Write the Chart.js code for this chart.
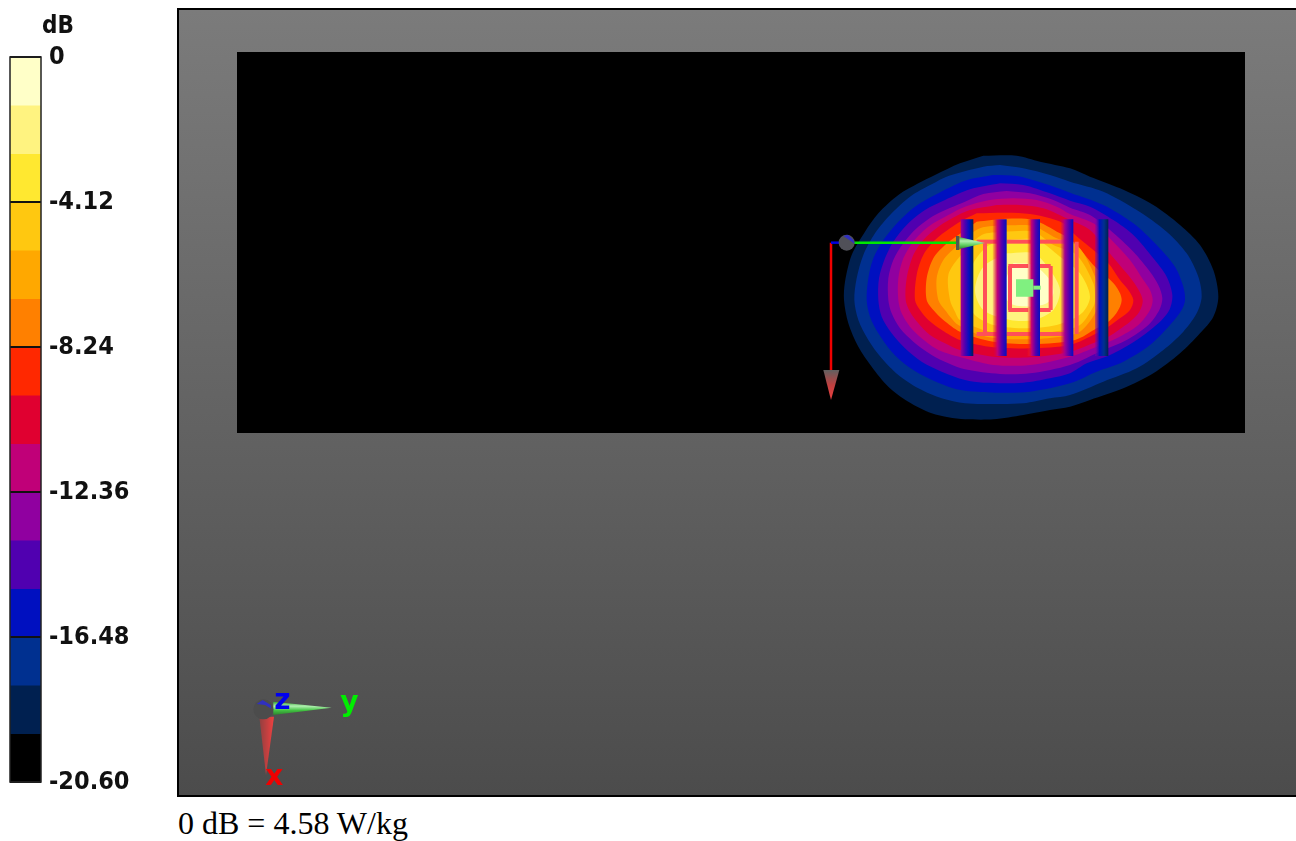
<!DOCTYPE html>
<html>
<head>
<meta charset="utf-8">
<title>SAR scan</title>
<script src="https://cdn.jsdelivr.net/npm/chart.js@4/dist/chart.umd.min.js"></script>
<style>
html, body { margin: 0; padding: 0; background: #fff; width: 1296px; height: 841px; overflow: hidden; }
#barCanvas { position: absolute; left: 0; top: 0; }
#frame { position: absolute; left: 177px; top: 8px; width: 1117px; height: 785px; border: 2px solid #000; border-right: 0;
    background: linear-gradient(#7b7b7b, #4c4c4c); }
#frame canvas { display: block; }
#unit { position: absolute; left: 42px; top: 11px; font: bold 24px "DejaVu Sans Condensed", "DejaVu Sans", sans-serif; color: #111; }
#note { position: absolute; left: 178px; top: 805px; font: 32px "Liberation Serif", serif; color: #000; white-space: nowrap; }
</style>
</head>
<body>
<canvas id="barCanvas" width="170" height="810"></canvas>
<div id="unit">dB</div>
<div id="frame"><canvas id="scanCanvas" width="1119" height="785"></canvas></div>
<div id="note">0 dB = 4.58 W/kg</div>
<script>
// Farbskala
const bandColors = ['#ffffc8', '#fff380', '#ffe830', '#ffc810', '#ffa800', '#ff8000', '#ff2800', '#e00030',
    '#c00078', '#9000a0', '#5000b0', '#0010c0', '#003090', '#002050', '#000000'];
const bandEdges = [0, -1.37, -2.75, -4.12, -5.49, -6.87, -8.24, -9.61, -10.99, -12.36, -13.73, -15.11, -16.48, -17.85, -19.23, -20.6];
const tickValues = [0, -4.12, -8.24, -12.36, -16.48, -20.6];

// Messbereich
const scanArea = [[-1749, -264], [1275, -264], [1275, 879], [-1749, 879], [-1749, -264]];

// Konturen von aussen nach innen (je eine zu bandColors[13] ... bandColors[0])
const contourA = [[490,47],[590,47],[660,65],[750,85],[810,110],[900,145],[1000,195],[1080,255],[1140,315],[1180,390],[1195,470],[1180,530],[1140,580],[1080,640],[1000,700],[910,745],[810,780],[750,800],[690,810],[610,825],[520,838],[435,838],[385,832],[335,820],[265,785],[205,740],[155,680],[115,620],[85,550],[72,480],[75,425],[95,345],[135,275],[175,220],[235,165],[295,130],[345,105],[420,70],[490,47]];
const contourB = [[540,75],[610,85],[690,105],[750,125],[850,155],[950,210],[1040,275],[1100,340],[1135,410],[1145,470],[1130,520],[1090,575],[1030,630],[950,685],[850,725],[750,765],[690,775],[610,790],[510,792],[435,790],[365,775],[295,745],[235,705],[185,655],[145,600],[115,540],[103,480],[110,415],[130,345],[165,280],[215,220],[270,170],[335,133],[385,108],[490,80],[540,75]];
const contourC = [[520,105],[590,108],[670,130],[750,158],[850,195],[940,250],[1010,315],[1065,380],[1090,440],[1095,480],[1085,510],[1050,555],[990,615],[910,665],[830,695],[750,730],[630,755],[540,758],[435,752],[385,740],[325,715],[265,680],[215,635],[175,580],[150,530],[140,480],[145,415],[160,355],[190,300],[235,245],[285,200],[345,165],[435,122],[520,105]];
const contourD = [[540,130],[610,135],[690,160],[750,182],[810,200],[880,240],[940,285],[1000,355],[1040,410],[1057,465],[1048,510],[1015,550],[950,600],[870,645],[800,670],[750,700],[690,715],[610,728],[490,728],[435,720],[365,695],[305,665],[255,625],[215,580],[185,530],[175,480],[177,415],[195,355],[220,305],[260,255],[315,210],[375,180],[450,148],[540,130]];
const contourE = [[560,153],[630,160],[700,180],[750,203],[810,225],[870,270],[940,335],[990,395],[1015,435],[1027,475],[1018,510],[985,555],[920,600],[850,630],[750,675],[630,700],[540,702],[435,688],[385,670],[335,645],[280,605],[240,565],[215,520],[205,480],[205,415],[220,360],[250,310],[290,265],[345,225],[435,185],[490,162],[560,153]];
const contourF = [[580,175],[650,180],[710,200],[750,222],[820,250],[865,290],[930,360],[970,420],[990,450],[998,480],[990,510],[955,555],[890,595],[830,620],[750,650],[630,675],[520,675],[435,655],[355,630],[305,595],[270,560],[245,520],[235,480],[235,415],[250,355],[280,305],[325,260],[385,225],[435,200],[510,180],[580,175]];
const contourG = [[530,195],[600,195],[670,205],[750,240],[810,270],[865,335],[920,400],[950,440],[968,480],[958,515],[930,545],[865,590],[830,605],[750,635],[630,652],[520,650],[420,630],[375,610],[330,585],[295,550],[270,515],[257,480],[260,415],[280,345],[310,300],[355,260],[415,225],[450,210],[530,195]];
const contourH = [[470,220],[560,218],[630,222],[690,235],[740,255],[760,280],[820,330],[865,370],[900,420],[925,450],[940,480],[930,510],[900,535],[865,560],[830,580],[750,615],[630,625],[520,622],[420,600],[365,570],[325,540],[300,510],[285,480],[290,405],[310,345],[345,300],[390,265],[420,245],[470,220]];
const contourI = [[470,245],[560,236],[640,240],[720,280],[760,305],[825,380],[865,415],[885,435],[900,460],[905,480],[900,500],[885,525],[865,545],[830,565],[765,600],[640,612],[520,605],[420,575],[370,540],[340,510],[320,480],[320,415],[340,355],[375,315],[415,285],[470,245]];
const contourJ = [[560,256],[640,258],[710,295],[775,320],[825,410],[835,470],[825,520],[780,575],[720,590],[620,598],[500,590],[415,555],[375,510],[355,480],[350,415],[370,360],[415,315],[480,265],[560,256]];
const contourK = [[550,275],[640,275],[700,315],[770,345],[820,430],[825,480],[820,500],[780,555],[720,572],[620,582],[510,575],[420,540],[405,515],[390,480],[385,405],[415,355],[485,285],[550,275]];
const contourL = [[550,300],[650,300],[720,350],[780,400],[810,470],[785,520],[720,552],[630,565],[520,555],[460,520],[440,450],[460,370],[500,320],[550,300]];
const contourM = [[560,340],[640,340],[690,390],[720,450],[700,510],[640,540],[570,540],[490,510],[465,450],[490,380],[560,340]];
const contourN = [[580,370],[640,375],[690,420],[700,460],[680,490],[630,500],[570,490],[550,440],[580,370]];
const contours = [contourA, contourB, contourC, contourD, contourE, contourF, contourG, contourH, contourI, contourJ, contourK, contourL, contourM, contourN];

// Antennenlinien (Strecken)
const traceLines = [
    [[470,305],[545,305]], [[560,305],[635,305]], [[660,305],[745,305]],
    [[470,582],[545,582]], [[560,582],[635,582]], [[660,582],[745,582]],
    [[495,305],[495,582]], [[770,305],[770,582]],
    [[565,378],[625,378]], [[660,378],[692,378]], [[570,378],[570,510]], [[692,378],[692,510]],
    [[565,510],[625,510]], [[660,510],[692,510]]
];

// Dunkle Streifen: linke Kante, rechte Kante, Farben von links nach rechts
const stripEdges = [[422, 460], [518, 560], [622, 660], [722, 760], [825, 865]];
const stripTop = 238;
const stripBottom = 648;
const stripColors = [
    ['#a00090', '#5000b0', '#0010c0', '#002050'],
    ['rgba(224,0,48,0.1)', '#c00078', '#5000b0', '#0010c0'],
    ['rgba(255,40,0,0.1)', '#c00078', '#5000b0', '#0010c0'],
    ['rgba(192,0,120,0.1)', '#a00090', '#5000b0', '#0010c0'],
    ['rgba(144,0,160,0.4)', '#0010c0', '#003090', '#002050']
];

// Sensorpunkt
const feedSquare = [[588,418],[640,418],[640,470],[588,470],[588,418]];
const feedStub = [[640,443],[662,443]];

// Koordinatenachsen im Bild
const redAxis = [[33,308],[33,690]];
const redTip = [[10,690],[58,690],[33,780],[10,690]];
const blueAxis = [[33,308],[60,308]];
const greenAxis = [[60,308],[410,308]];
const greenBase = [[408,288],[418,288],[418,330],[408,330],[408,288]];
const greenTip = [[418,291],[495,309],[418,327],[418,291]];
const originDot = [[80,308]];
const originCap = [[70,288],[84,284],[100,300],[104,312],[88,300],[70,288]];

// Kleines Achsenkreuz unten links
const triadDot = [[-1670,1708]];
const triadCap = [[-1690,1692],[-1672,1680],[-1648,1695],[-1646,1706],[-1665,1695],[-1690,1692]];
const triadRed = [[-1682,1730],[-1638,1730],[-1662,1905],[-1682,1730]];
const triadGreen = [[-1640,1685],[-1465,1703],[-1640,1725],[-1640,1685]];
const triadLabels = [
    { text: 'z', x: -1613, y: 1686, color: '#0000f0' },
    { text: 'y', x: -1412, y: 1692, color: '#00ee00' },
    { text: 'x', x: -1637, y: 1912, color: '#f00000' }
];

function toPoints(list) {
    return list.map(p => ({ x: p[0], y: p[1] }));
}

function shape(list, color, tension) {
    return { data: toPoints(list), showLine: true, fill: 'shape', backgroundColor: color, borderWidth: 0, pointRadius: 0, tension: tension || 0 };
}

function stroke(list, color, width) {
    return { data: toPoints(list), showLine: true, fill: false, borderColor: color, borderWidth: width, pointRadius: 0 };
}

function dot(list, color, radius) {
    return { data: toPoints(list), showLine: false, backgroundColor: color, borderWidth: 0, pointRadius: radius };
}

// Verlauf entlang einer Achse, in Skalenwerten angegeben
function gradient(axis, from, to, colors) {
    return function (ctx) {
        const chart = ctx.chart;
        if (!chart.chartArea) return colors[0];
        const s = chart.scales[axis];
        const a = s.getPixelForValue(from);
        const b = s.getPixelForValue(to);
        const g = axis === 'x' ? chart.ctx.createLinearGradient(a, 0, b, 0) : chart.ctx.createLinearGradient(0, a, 0, b);
        colors.forEach((c, i) => g.addColorStop(i / (colors.length - 1), c));
        return g;
    };
}

// Zeichenreihenfolge: erst der Hintergrund, zuletzt die Achsen
const layers = [];
layers.push(shape(scanArea, '#000000'));
contours.forEach((c, i) => layers.push(shape(c, bandColors[13 - i], 0.3)));
traceLines.forEach(l => layers.push(stroke(l, '#ff5058', 4)));
stripEdges.forEach((e, i) => {
    const box = [[e[0], stripTop], [e[1], stripTop], [e[1], stripBottom], [e[0], stripBottom], [e[0], stripTop]];
    layers.push(shape(box, gradient('x', e[0], e[1], stripColors[i])));
});
layers.push(shape(feedSquare, '#80f080'));
layers.push(stroke(feedStub, '#80f080', 4));
layers.push(stroke(redAxis, '#f00000', 2.5));
layers.push(shape(redTip, gradient('y', 690, 780, ['#606060', '#c04040', '#f04040'])));
layers.push(stroke(greenAxis, '#00e800', 2.5));
layers.push(stroke(blueAxis, '#0000e0', 2.5));
layers.push(shape(greenTip, gradient('y', 291, 327, ['#40b040', '#b0f0b0', '#60d060', '#308030'])));
layers.push(shape(greenBase, '#505850'));
layers.push(dot(originDot, '#505058', 8));
layers.push(shape(originCap, '#3030c0'));
layers.push(shape(triadGreen, gradient('y', 1685, 1725, ['#30a030', '#b0f0b0', '#40c040', '#308030'])));
layers.push(shape(triadRed, gradient('x', -1682, -1638, ['#904040', '#f04040'])));
layers.push(dot(triadDot, '#4c4c4c', 10));
layers.push(shape(triadCap, '#3030c0'));

// Beschriftung x, y, z am Achsenkreuz
const triadTextPlugin = {
    id: 'triadText',
    afterDraw(chart) {
        const c = chart.ctx;
        c.save();
        c.font = 'bold 28px "DejaVu Sans", sans-serif';
        c.textAlign = 'center';
        c.textBaseline = 'middle';
        triadLabels.forEach(l => {
            c.fillStyle = l.color;
            c.fillText(l.text, chart.scales.x.getPixelForValue(l.x), chart.scales.y.getPixelForValue(l.y));
        });
        c.restore();
    }
};

new Chart(document.getElementById('scanCanvas').getContext('2d'), {
    type: 'scatter',
    data: { datasets: layers.reverse() },
    plugins: [triadTextPlugin],
    options: {
        animation: false,
        responsive: false,
        layout: { padding: 0, autoPadding: false },
        plugins: { legend: { display: false }, tooltip: { enabled: false } },
        scales: {
            x: { display: false, type: 'linear', min: -1923, max: 1434 },
            y: { display: false, type: 'linear', min: -390, max: 1965, reverse: true }
        }
    }
});

// Rahmen um die Farbskala
const barFramePlugin = {
    id: 'barFrame',
    afterDraw(chart) {
        const a = chart.chartArea;
        const c = chart.ctx;
        c.save();
        c.strokeStyle = '#222';
        c.lineWidth = 1.5;
        c.strokeRect(a.left, a.top, a.right - a.left, a.bottom - a.top);
        c.restore();
    }
};

new Chart(document.getElementById('barCanvas').getContext('2d'), {
    type: 'bar',
    data: {
        labels: ['dB'],
        datasets: bandColors.map((color, i) => ({
            data: [[bandEdges[i + 1], bandEdges[i]]],
            backgroundColor: color,
            borderWidth: 0,
            barPercentage: 1,
            categoryPercentage: 1,
            grouped: false
        }))
    },
    plugins: [barFramePlugin],
    options: {
        animation: false,
        responsive: false,
        layout: { padding: { left: 10, top: 57, bottom: 28, right: 0 } },
        plugins: { legend: { display: false }, tooltip: { enabled: false } },
        scales: {
            x: { display: false },
            y: {
                position: 'right',
                min: -20.6,
                max: 0,
                afterBuildTicks: axis => { axis.ticks = tickValues.map(v => ({ value: v })); },
                afterFit: axis => { axis.width = 129; },
                border: { display: false },
                grid: { z: 1, color: '#111', lineWidth: 2, drawTicks: false },
                ticks: {
                    autoSkip: false,
                    padding: 8,
                    color: '#111',
                    font: { family: '"DejaVu Sans Condensed", "DejaVu Sans", sans-serif', size: 25, weight: 'bold' },
                    callback: v => v === 0 ? '0' : v.toFixed(2)
                }
            }
        }
    }
});
</script>
</body>
</html>
